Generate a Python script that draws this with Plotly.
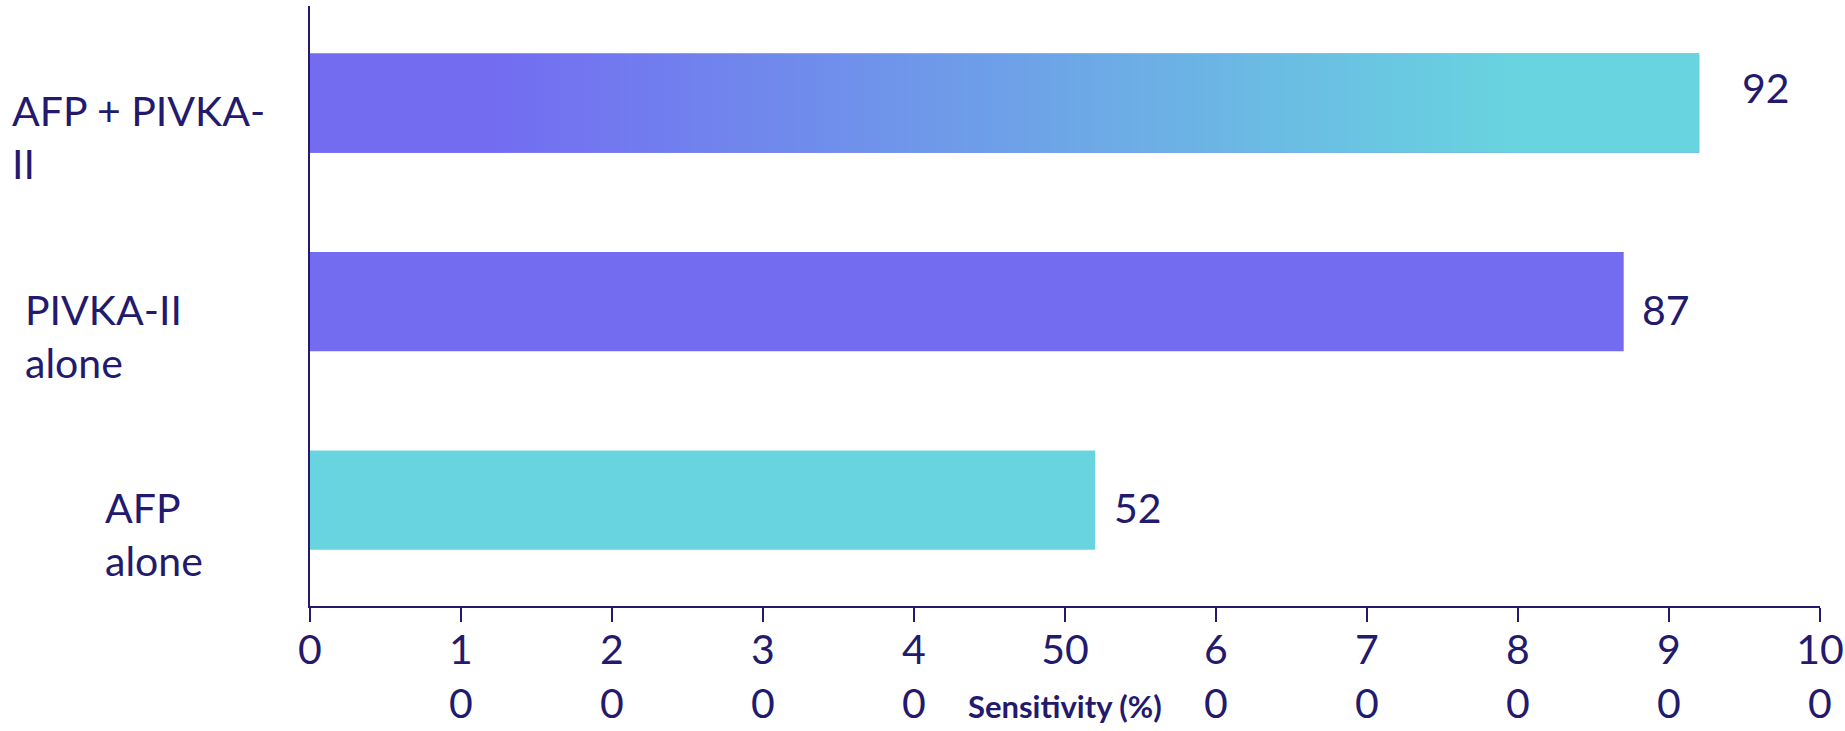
import plotly.graph_objects as go

# Sensitivity of each marker strategy (%)
categories = ["AFP alone", "PIVKA-II alone", "AFP + PIVKA-II"]
category_labels = ["AFP<br>alone", "PIVKA-II<br>alone", "AFP + PIVKA-<br>II"]
sensitivity = [52, 87, 92]

x_tick_values = [0, 10, 20, 30, 40, 50, 60, 70, 80, 90, 100]
x_tick_text = ["0", "1<br>0", "2<br>0", "3<br>0", "4<br>0", "50",
               "6<br>0", "7<br>0", "8<br>0", "9<br>0", "10<br>0"]

INK = "#231A6E"
PURPLE = "#736CF1"
CYAN = "#68D4DF"
FONT = "Lato"
BAR_WIDTH = 0.5

positions = list(range(len(categories)))
bar_colors = [CYAN, PURPLE, PURPLE]

fig = go.Figure()

fig.add_trace(go.Bar(
    x=sensitivity,
    y=positions,
    orientation="h",
    width=BAR_WIDTH,
    marker=dict(color=bar_colors, line=dict(width=0)),
    hovertext=categories,
    showlegend=False,
))

# The combined-marker bar is overlaid with a purple-to-cyan horizontal gradient
top = positions[-1]
top_value = sensitivity[-1]
half = BAR_WIDTH / 2
fig.add_trace(go.Scatter(
    x=[0, top_value, top_value, 0, 0],
    y=[top - half, top - half, top + half, top + half, top - half],
    mode="lines",
    line=dict(width=0),
    fill="toself",
    fillgradient=dict(
        type="horizontal",
        colorscale=[[0, PURPLE], [0.13, PURPLE], [0.87, CYAN], [1, CYAN]],
    ),
    hoverinfo="skip",
    showlegend=False,
))

# Category labels, left-aligned blocks to the left of the axis
label_left = [103, 23, 10]
annotations = []
for pos, text, left in zip(positions, category_labels, label_left):
    annotations.append(dict(
        x=0, xref="paper", y=pos, yref="y",
        xanchor="left", yanchor="middle", align="left",
        xshift=left - 310, yshift=-34,
        text=text, showarrow=False,
        font=dict(family=FONT, size=41, color=INK),
    ))

# Value labels at the end of each bar
value_gap = [17, 16, 41]
value_lift = [-7, -8, 16]
for pos, val, gap, lift in zip(positions, sensitivity, value_gap, value_lift):
    annotations.append(dict(
        x=val, xref="x", y=pos, yref="y",
        xanchor="left", yanchor="middle",
        xshift=gap, yshift=lift,
        text=str(val), showarrow=False,
        font=dict(family=FONT, size=41, color=INK),
    ))

annotations.append(dict(
    x=0.5, xref="paper", y=0, yref="paper",
    xanchor="center", yanchor="middle", yshift=-100,
    text="<b>Sensitivity (%)</b>", showarrow=False,
    font=dict(family=FONT, size=31, color=INK),
))

fig.update_layout(
    width=1845, height=731,
    margin=dict(l=310, r=25, t=6, b=125),
    paper_bgcolor="white", plot_bgcolor="white",
    annotations=annotations,
    bargap=0.5,
)

fig.update_xaxes(
    range=[0, 100],
    tickmode="array", tickvals=x_tick_values, ticktext=x_tick_text,
    ticks="outside", ticklen=14, tickwidth=2, tickcolor=INK,
    showline=True, linecolor=INK, linewidth=2,
    showgrid=False, zeroline=False,
    tickfont=dict(family=FONT, size=41, color=INK),
    ticklabelstandoff=-7,
    automargin=False,
)

fig.update_yaxes(
    range=[-0.534, 2.489],
    showticklabels=False, ticks="",
    showline=True, linecolor=INK, linewidth=2,
    showgrid=False, zeroline=False,
    automargin=False,
)

fig.write_html("out.html")
